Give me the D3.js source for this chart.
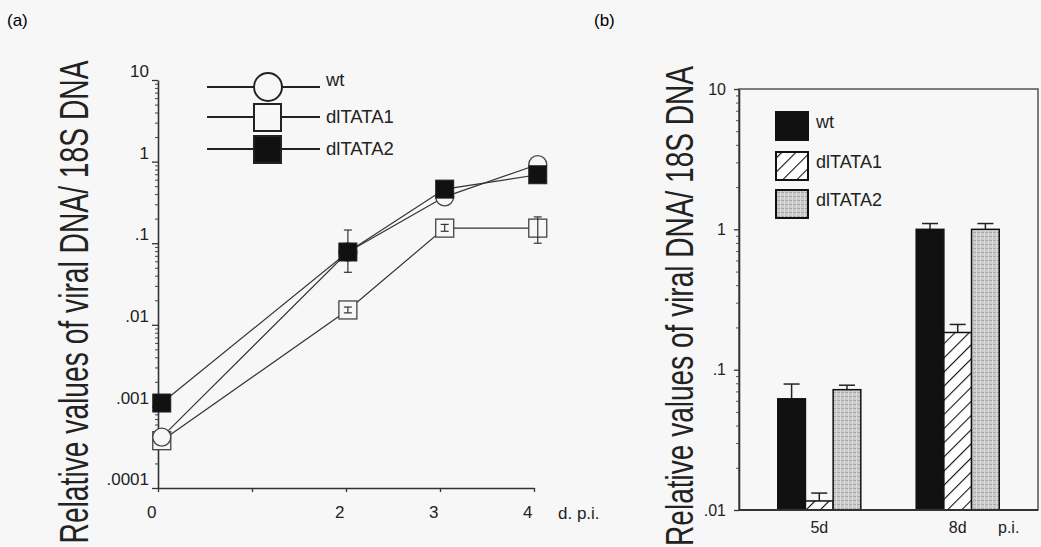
<!DOCTYPE html>
<html>
<head>
<meta charset="utf-8">
<script src="https://cdn.jsdelivr.net/npm/d3@7"></script>
<style>
body { margin: 0; background: #f7f7f7; }
svg { display: block; font-family: "Liberation Sans", Arial, Helvetica, sans-serif; }
</style>
</head>
<body>
<svg id="chart" width="1041" height="547"></svg>
<script>
// ---- panel (a): time course ----
var days = [0.04, 2.02, 3.05, 4.04];
var wtLine = [0.00042, 0.078, 0.37, 0.92];
var d1Line = [0.00038, 0.0152, 0.153, 0.153];
var d2Line = [0.0011, 0.078, 0.46, 0.69];
// [low, high] per point, null where no bar is visible
var wtLineErr = [null, [0.044, 0.145], [0.31, 0.42], null];
var d1LineErr = [null, [0.014, 0.0165], [0.14, 0.17], [0.10, 0.21]];
var d2LineErr = [null, null, null, null];
var xTicksA = [0, 1, 2, 3, 4];
var xLabelsA = ["0", "", "2", "3", "4"];
var yTicksA = [0.0001, 0.001, 0.01, 0.1, 1, 10];
var yLabelsA = [".0001", ".001", ".01", ".1", "1", "10"];

// ---- panel (b): bars ----
var groups = ["5d", "8d"];
var seriesNames = ["wt", "dlTATA1", "dlTATA2"];
var wtBar = [0.062, 1.0];
var d1Bar = [0.0116, 0.184];
var d2Bar = [0.072, 1.0];
var wtBarErr = [0.079, 1.1];
var d1BarErr = [0.0132, 0.21];
var d2BarErr = [0.0775, 1.1];
var yTicksB = [0.01, 0.1, 1, 10];
var yLabelsB = [".01", ".1", "1", "10"];

var svg = d3.select("#chart");
var titleText = "Relative values of viral DNA/ 18S DNA";

function minorTicks(lo, hi) {
    var out = [];
    for (var d = lo; d < hi * 0.999; d *= 10) {
        for (var k = 2; k <= 9; k++) out.push(d * k);
    }
    return out;
}

// condensed, rotated axis title: measure then squeeze along the baseline
function axisTitle(cx, cy, size, len) {
    var t = svg.append("text")
        .attr("text-anchor", "middle")
        .style("font-size", size + "px").attr("fill", "#222")
        .text(titleText);
    var w = t.node().getComputedTextLength();
    t.attr("transform", "translate(" + cx + "," + cy + ") rotate(-90) scale(" + (len / w) + ",1)");
}

// patterns
var defs = svg.append("defs");
var hatch = defs.append("pattern")
    .attr("id", "hatch")
    .attr("patternUnits", "userSpaceOnUse")
    .attr("width", 10).attr("height", 10)
    .attr("patternTransform", "rotate(45)");
hatch.append("rect").attr("width", 10).attr("height", 10).attr("fill", "#fff");
hatch.append("line").attr("x1", 0).attr("y1", 0).attr("x2", 0).attr("y2", 10)
    .attr("stroke", "#111").attr("stroke-width", 2.2);

var grid = defs.append("pattern")
    .attr("id", "grid")
    .attr("patternUnits", "userSpaceOnUse")
    .attr("width", 4).attr("height", 4);
grid.append("rect").attr("width", 4).attr("height", 4).attr("fill", "#cbcbcb");
grid.append("rect").attr("width", 4).attr("height", 1).attr("fill", "#a9a9a9");
grid.append("rect").attr("width", 1).attr("height", 4).attr("fill", "#dadada");

// ================= panel (a) =================
var xA = d3.scaleLinear().domain([0, 4]).range([158, 534]);
var yA = d3.scaleLog().domain([0.0001, 10]).range([488, 80]);

svg.append("text").attr("x", 7).attr("y", 26)
    .style("font-size", "17px").text("(a)");

var gA = svg.append("g");

gA.append("g")
    .attr("transform", "translate(158,0)")
    .call(d3.axisLeft(yA).tickValues(minorTicks(0.0001, 10)).tickSize(3).tickFormat(""))
    .call(function(g) { g.select(".domain").remove(); })
    .selectAll("line").attr("stroke", "#444");

gA.append("g")
    .attr("transform", "translate(158,0)")
    .call(d3.axisLeft(yA).tickValues(yTicksA).tickSize(6).tickSizeOuter(0).tickPadding(3)
        .tickFormat(function(d, i) { return yLabelsA[i]; }))
    .call(function(g) {
        g.select(".domain").attr("stroke", "#333").attr("stroke-width", 1.6);
        g.selectAll("line").attr("stroke", "#333").attr("stroke-width", 1.3);
        g.selectAll("text").attr("dy", "-0.2em").style("font-size", "17px").attr("fill", "#222");
    });

gA.append("g")
    .attr("transform", "translate(0,488)")
    .call(d3.axisBottom(xA).tickValues(xTicksA).tickSize(4).tickSizeOuter(0).tickPadding(14)
        .tickFormat(function(d, i) { return xLabelsA[i]; }))
    .call(function(g) {
        g.select(".domain").attr("stroke", "#333").attr("stroke-width", 1.6);
        g.selectAll("line").attr("stroke", "#333").attr("stroke-width", 1.3);
        g.selectAll("text").attr("dx", "-0.4em").style("font-size", "17px").attr("fill", "#222");
    });

svg.append("text").attr("x", 558).attr("y", 519)
    .style("font-size", "17px").attr("fill", "#222").text("d. p.i.");

axisTitle(88, 302, 41, 483);

var lineA = d3.line()
    .x(function(d, i) { return xA(days[i]); })
    .y(function(d) { return yA(d); });

[d1Line, wtLine, d2Line].forEach(function(s) {
    gA.append("path").datum(s)
        .attr("d", lineA)
        .attr("fill", "none")
        .attr("stroke", "#333")
        .attr("stroke-width", 1.2);
});

function errBars(errs, cap) {
    var sel = gA.append("g").selectAll("g")
        .data(errs.map(function(e, i) { return { e: e, i: i }; }).filter(function(d) { return d.e; }))
        .enter().append("g");
    sel.append("line")
        .attr("x1", function(d) { return xA(days[d.i]); })
        .attr("x2", function(d) { return xA(days[d.i]); })
        .attr("y1", function(d) { return yA(d.e[0]); })
        .attr("y2", function(d) { return yA(d.e[1]); });
    [0, 1].forEach(function(k) {
        sel.append("line")
            .attr("x1", function(d) { return xA(days[d.i]) - cap / 2; })
            .attr("x2", function(d) { return xA(days[d.i]) + cap / 2; })
            .attr("y1", function(d) { return yA(d.e[k]); })
            .attr("y2", function(d) { return yA(d.e[k]); });
    });
    sel.selectAll("line").attr("stroke", "#333").attr("stroke-width", 1.2);
}
errBars(wtLineErr, 8);
errBars(d2LineErr, 8);

// dlTATA1 open squares
gA.append("g").selectAll("rect")
    .data(d1Line).enter().append("rect")
    .attr("x", function(d, i) { return xA(days[i]) - 9; })
    .attr("y", function(d) { return yA(d) - 9; })
    .attr("width", 18).attr("height", 18)
    .attr("fill", "#f7f7f7").attr("stroke", "#444").attr("stroke-width", 1.3);
errBars(d1LineErr, 8);

// wt open circles
gA.append("g").selectAll("circle")
    .data(wtLine).enter().append("circle")
    .attr("cx", function(d, i) { return xA(days[i]); })
    .attr("cy", function(d) { return yA(d); })
    .attr("r", 9)
    .attr("fill", "#f7f7f7").attr("stroke", "#444").attr("stroke-width", 1.3);

// dlTATA2 filled squares
gA.append("g").selectAll("rect")
    .data(d2Line).enter().append("rect")
    .attr("x", function(d, i) { return xA(days[i]) - 9; })
    .attr("y", function(d) { return yA(d) - 9; })
    .attr("width", 18).attr("height", 18)
    .attr("fill", "#111").attr("stroke", "#222").attr("stroke-width", 1);

// legend (a)
var legA = svg.append("g");
var legRowsA = [87, 117, 149];
seriesNames.forEach(function(name, i) {
    var y = legRowsA[i];
    legA.append("line").attr("x1", 207).attr("x2", 320).attr("y1", y).attr("y2", y)
        .attr("stroke", "#222").attr("stroke-width", 2);
    if (i === 0) {
        legA.append("circle").attr("cx", 268).attr("cy", y).attr("r", 14)
            .attr("fill", "#f7f7f7").attr("stroke", "#222").attr("stroke-width", 2);
    } else {
        legA.append("rect").attr("x", 254).attr("y", y - 13).attr("width", 27).attr("height", 27)
            .attr("fill", i === 1 ? "#f7f7f7" : "#111").attr("stroke", "#222").attr("stroke-width", 2);
    }
    legA.append("text").attr("x", 326).attr("y", y + (i === 0 ? -1 : 6))
        .style("font-size", "18.5px").attr("fill", "#222").text(name);
});

// ================= panel (b) =================
var yB = d3.scaleLog().domain([0.01, 10]).range([510, 89]);
var xB = d3.scaleBand().domain(groups).range([739, 1038]).paddingInner(0.4).paddingOuter(0.28);
var xSub = d3.scaleBand().domain(seriesNames).range([0, xB.bandwidth()]);

svg.append("text").attr("x", 594).attr("y", 26)
    .style("font-size", "17px").text("(b)");

var gB = svg.append("g");

gB.append("rect").attr("x", 739).attr("y", 89).attr("width", 299).attr("height", 421)
    .attr("fill", "none").attr("stroke", "#555").attr("stroke-width", 1.5);

gB.append("g")
    .attr("transform", "translate(739,0)")
    .call(d3.axisLeft(yB).tickValues(minorTicks(0.01, 10)).tickSize(3).tickFormat(""))
    .call(function(g) { g.select(".domain").remove(); })
    .selectAll("line").attr("stroke", "#555");

gB.append("g")
    .attr("transform", "translate(739,0)")
    .call(d3.axisLeft(yB).tickValues(yTicksB).tickSize(5).tickSizeOuter(0).tickPadding(8)
        .tickFormat(function(d, i) { return yLabelsB[i]; }))
    .call(function(g) {
        g.select(".domain").attr("stroke", "#333").attr("stroke-width", 1.6);
        g.selectAll("line").attr("stroke", "#333").attr("stroke-width", 1.3);
        g.selectAll("text").style("font-size", "16px").attr("fill", "#222");
    });

axisTitle(693, 306, 39, 480);

var barVals = [wtBar, d1Bar, d2Bar];
var barErrs = [wtBarErr, d1BarErr, d2BarErr];
var barFills = ["#111", "url(#hatch)", "url(#grid)"];

seriesNames.forEach(function(name, s) {
    var gs = gB.append("g");
    gs.selectAll("line.err")
        .data(groups).enter().append("line")
        .attr("class", "err")
        .attr("x1", function(g) { return xB(g) + xSub(name) + xSub.bandwidth() / 2; })
        .attr("x2", function(g) { return xB(g) + xSub(name) + xSub.bandwidth() / 2; })
        .attr("y1", function(g, i) { return yB(barVals[s][i]); })
        .attr("y2", function(g, i) { return yB(barErrs[s][i]); })
        .attr("stroke", "#222").attr("stroke-width", 1.5);
    gs.selectAll("line.cap")
        .data(groups).enter().append("line")
        .attr("class", "cap")
        .attr("x1", function(g) { return xB(g) + xSub(name) + xSub.bandwidth() / 2 - 8; })
        .attr("x2", function(g) { return xB(g) + xSub(name) + xSub.bandwidth() / 2 + 8; })
        .attr("y1", function(g, i) { return yB(barErrs[s][i]); })
        .attr("y2", function(g, i) { return yB(barErrs[s][i]); })
        .attr("stroke", "#222").attr("stroke-width", 1.5);
    gs.selectAll("rect")
        .data(groups).enter().append("rect")
        .attr("x", function(g) { return xB(g) + xSub(name); })
        .attr("y", function(g, i) { return yB(barVals[s][i]); })
        .attr("width", xSub.bandwidth())
        .attr("height", function(g, i) { return yB(0.01) - yB(barVals[s][i]); })
        .attr("fill", barFills[s])
        .attr("stroke", "#111").attr("stroke-width", 1.5);
});

gB.append("line").attr("x1", 739).attr("x2", 1038).attr("y1", 510).attr("y2", 510)
    .attr("stroke", "#333").attr("stroke-width", 1.8);

gB.selectAll("text.grp")
    .data(groups).enter().append("text")
    .attr("class", "grp")
    .attr("x", function(g) { return xB(g) + xB.bandwidth() / 2; })
    .attr("y", 533)
    .attr("text-anchor", "middle")
    .style("font-size", "16px").attr("fill", "#222")
    .text(function(g) { return g; });

svg.append("text").attr("x", 998).attr("y", 533)
    .style("font-size", "16px").attr("fill", "#222").text("p.i.");

// legend (b)
var legB = svg.append("g");
var legRowsB = [112, 152, 190];
seriesNames.forEach(function(name, i) {
    legB.append("rect").attr("x", 776).attr("y", legRowsB[i]).attr("width", 32).attr("height", 28)
        .attr("fill", barFills[i]).attr("stroke", "#111").attr("stroke-width", 2);
    legB.append("text").attr("x", 816).attr("y", legRowsB[i] + 16)
        .style("font-size", "18px").attr("fill", "#222").text(name);
});
</script>
</body>
</html>
